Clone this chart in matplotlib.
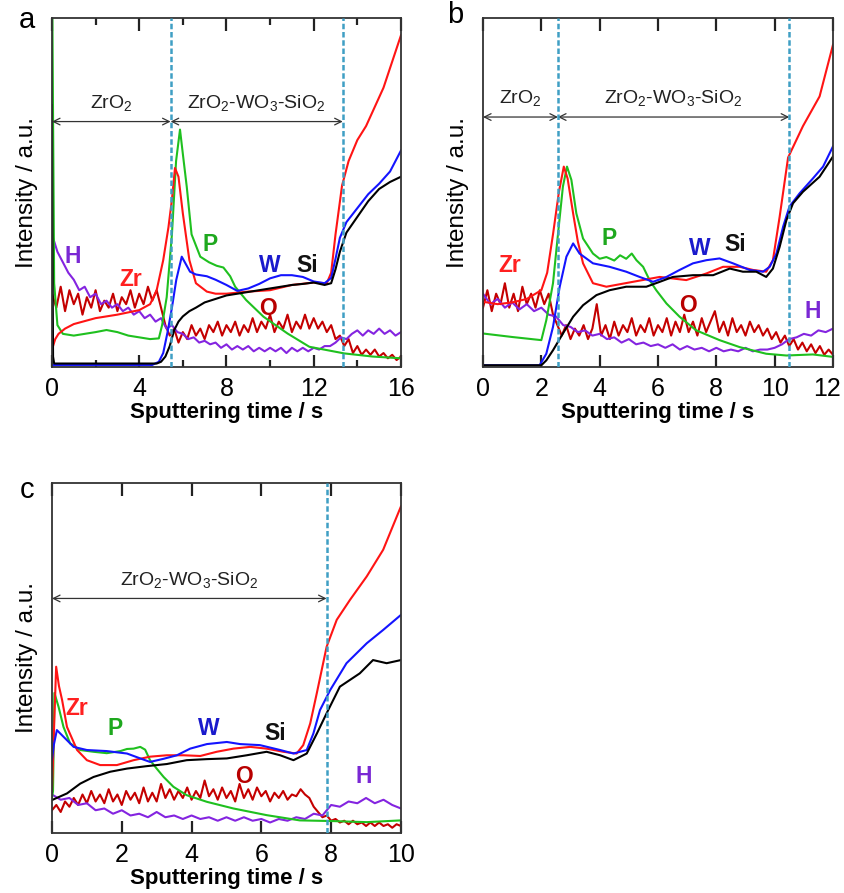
import numpy as np
import matplotlib
matplotlib.use('Agg')
import matplotlib.pyplot as plt
from matplotlib.ticker import MultipleLocator, FuncFormatter

plt.rcParams['font.family'] = ['Liberation Sans', 'DejaVu Sans']
plt.rcParams['mathtext.fontset'] = 'custom'
plt.rcParams['mathtext.rm'] = 'Liberation Sans'

# ---------------- panel a (0-16 s) ----------------
zr_a_t = [0, 0.15, 0.3, 0.6, 1, 2, 3, 4, 4.5, 4.8, 5.1, 5.34, 5.5, 5.64, 5.8, 6.0, 6.3, 6.6, 7.1, 7.5, 8, 9, 10, 11, 12, 12.6, 12.8, 13.0, 13.3, 13.6, 14.0, 14.4, 15.2, 16]
zr_a = [5, 8, 9.5, 11, 12.3, 14, 15, 16.3, 18, 22, 30.6, 40, 48, 57, 54.5, 44, 30.6, 24, 21.6, 21, 21, 21.6, 22, 23.5, 24.2, 24, 27, 38, 52, 59, 65, 69, 80, 95]
p_a_t = [0, 0.02, 0.1, 0.25, 0.5, 1, 1.5, 2, 2.5, 3, 3.5, 4, 4.5, 4.9, 5.05, 5.26, 5.5, 5.69, 5.87, 6.02, 6.18, 6.4, 6.8, 7.2, 7.55, 7.86, 8.17, 8.4, 8.9, 9.7, 10.8, 11.8, 13.4, 14.7, 16]
p_a = [100, 100, 24, 12, 9.5, 9, 9.5, 10, 10.6, 10, 9, 8.5, 8, 8.2, 12, 20, 38, 59, 68, 60, 51.6, 38, 31.6, 30, 29, 28.5, 26, 23, 19.2, 14.4, 9.6, 5.8, 3.9, 3, 2.5]
w_a_t = [0, 4.6, 4.9, 5.1, 5.3, 5.5, 5.7, 5.95, 6.33, 6.6, 7.1, 7.5, 8, 8.5, 9, 9.5, 10, 10.5, 11, 11.5, 12, 12.5, 12.8, 13.0, 13.2, 13.5, 14, 14.5, 15, 15.5, 16]
w_a = [0.6, 0.6, 1.5, 4, 10, 17, 25, 31.6, 27.3, 26.5, 26, 25, 23.5, 21.8, 22.5, 23.8, 25.4, 26.3, 26.3, 25.8, 24.5, 24, 25.5, 31, 37, 41.5, 45.5, 49.5, 52.5, 56, 62]
si_a_t = [0, 0.02, 0.05, 0.1, 4.8, 5.0, 5.2, 5.4, 5.6, 5.8, 6.0, 6.3, 6.6, 7, 7.5, 8, 8.5, 9, 9.5, 10, 10.5, 11, 11.5, 12, 12.5, 12.8, 13.0, 13.2, 13.5, 14, 14.5, 15, 15.5, 16]
si_a = [75, 40, 3, 1, 1, 1.5, 3, 6, 10.5, 13, 14.5, 16, 17, 18.5, 19.5, 20.5, 21, 21.5, 22, 22.5, 23, 23.5, 23.8, 24.2, 23.5, 24, 28, 33, 38.5, 43, 47.5, 51, 53, 54.5]
o_a = [21, 17, 23, 16, 22, 18, 21, 15, 20, 17, 22, 16, 19, 17, 21, 16, 20, 18, 22, 17,
       21, 18, 23, 19, 22, 17, 12, 9, 11, 7, 10, 8, 12, 9, 11, 8, 12, 10, 13, 9,
       12, 10, 13, 9, 12, 10, 14, 10, 13, 11, 15, 10, 13, 11, 15, 10, 13, 11, 15, 11,
       14, 11, 13, 10, 12, 8, 9, 6, 8, 4, 6, 3.5, 5, 3.5, 5, 3, 4, 2.5, 3.5, 2, 3]
h_a = [38, 33, 30, 27, 25, 22, 23, 20, 21, 18, 19, 17, 18, 16, 17, 15, 16, 14, 15, 13,
       14, 11, 12, 10, 9.5, 8, 8.5, 7, 7.5, 6.5, 7, 5.5, 6.5, 5, 6, 5, 6, 4.5, 5.5, 4.5,
       5.5, 4.5, 5.5, 4, 5.5, 4.5, 5.5, 4.5, 5.5, 5, 6, 6, 7, 8.5, 8, 9.5, 10.5, 9, 10.5, 9.5,
       11, 9.5, 10.5, 9, 10]

# ---------------- panel b (0-12 s) ----------------
zr_b_t = [0, 0.5, 1, 1.5, 2.0, 2.2, 2.4, 2.6, 2.77, 2.9, 3.09, 3.25, 3.43, 3.77, 4.23, 5.14, 6.06, 6.97, 7.66, 8.23, 8.8, 9.26, 9.71, 9.94, 10.17, 10.46, 10.97, 11.54, 12]
zr_b = [18.7, 18, 18.5, 19.5, 22, 27, 38, 50, 57.4, 54, 44, 36, 29.7, 24, 23, 24.4, 25.8, 24.9, 26.8, 28.7, 28.7, 27.8, 27.3, 30.6, 43, 60, 69, 77.5, 92.3]
p_b_t = [0, 1, 2, 2.17, 2.4, 2.57, 2.74, 2.88, 3.03, 3.2, 3.43, 3.77, 4.0, 4.23, 4.5, 4.7, 4.91, 5.1, 5.26, 5.49, 5.71, 5.94, 6.29, 6.74, 7.31, 8.11, 8.8, 9.71, 10.4, 11.31, 12]
p_b = [9.6, 8.6, 7.7, 13.4, 24, 38, 51.7, 57.4, 53.6, 44, 36.8, 32.5, 31, 31.5, 30.5, 32, 31, 32.5, 30.6, 28.7, 24.9, 22, 18.2, 14.4, 10.5, 7.7, 5.7, 3.8, 3.3, 3.6, 2.9]
w_b_t = [0, 1.94, 2.17, 2.4, 2.63, 2.86, 3.09, 3.31, 3.77, 4.34, 4.91, 5.37, 5.83, 6.29, 6.74, 7.2, 7.66, 8.11, 8.57, 9.14, 9.6, 9.83, 10.06, 10.29, 10.51, 10.86, 11.31, 11.66, 12]
w_b = [0.5, 0.5, 3.8, 11.5, 23, 31.6, 35.4, 32.5, 29.7, 28.7, 27.3, 25.8, 24.4, 25.8, 27.8, 29.7, 30.6, 31.1, 29.7, 27.8, 27.3, 28.7, 32.5, 40.2, 46, 49.8, 54, 57.4, 63.2]
si_b_t = [0, 2.0, 2.17, 2.4, 2.74, 3.09, 3.43, 3.89, 4.34, 4.91, 5.6, 6.06, 6.51, 7.2, 7.89, 8.46, 8.91, 9.37, 9.71, 9.94, 10.17, 10.4, 10.63, 10.97, 11.54, 12]
si_b = [0.5, 0.5, 1.9, 4.8, 9.6, 14.4, 17.7, 20.6, 22, 23, 23, 24.4, 25.8, 26.3, 26.3, 28.2, 27.3, 27.3, 25.8, 28.2, 34.4, 42, 46.9, 50.2, 54.5, 60.3]
o_b = [17, 22, 16, 21, 18, 24, 17, 21, 16, 23, 18, 21, 17, 22, 18, 21, 15, 12, 9, 12,
       8, 11, 9, 12, 8, 11, 18, 9, 12, 8, 13, 9, 12, 10, 14, 9, 12, 10, 14, 9,
       12, 10, 14, 9, 13, 10, 15, 10, 13, 9, 14, 10, 13, 16, 10, 13, 9, 14, 10, 12,
       9, 13, 10, 12, 9, 11, 8, 10, 7, 9, 6, 8, 5, 7, 4.5, 6.5, 4, 6, 3.5, 5, 3.5]
h_b = [21, 18, 19.5, 17, 18.5, 16.5, 18, 16, 17, 15, 14.5, 12, 11.5, 10, 10.5, 9, 9.5, 8, 8.5, 7,
       8, 6.5, 7, 6, 6.5, 5.5, 6.5, 5, 6, 5, 5.5, 4.5, 5.5, 4.5, 5, 4.5, 5.5, 4.5, 5, 5,
       5.5, 6.5, 8, 8.5, 9.5, 9, 10.5, 10, 11]

# ---------------- panel c (0-10 s) ----------------
zr_c_t = [0, 0.06, 0.12, 0.2, 0.29, 0.43, 0.72, 1.0, 1.38, 1.86, 2.34, 2.81, 3.29, 3.77, 4.25, 4.72, 5.2, 5.68, 6.15, 6.63, 7.01, 7.2, 7.4, 7.59, 7.87, 8.16, 8.54, 9.02, 9.49, 10]
zr_c = [12, 30, 47.5, 42, 38, 30.3, 23.7, 20.8, 19.4, 19.4, 20.8, 21.8, 22.2, 22.2, 22, 23.2, 24.1, 24.6, 24.1, 23.2, 22.7, 25.1, 31.3, 40, 53.2, 60.9, 66.6, 73.3, 80.9, 93.3]
p_c_t = [0, 0.03, 0.07, 0.19, 0.33, 0.52, 0.81, 1.19, 1.57, 1.96, 2.15, 2.34, 2.53, 2.67, 2.81, 3.0, 3.2, 3.48, 3.86, 4.44, 5.2, 6.15, 7.1, 8.06, 9.02, 10]
p_c = [10, 12, 40, 36, 30.3, 25.6, 23.7, 23.2, 22.8, 23.4, 24, 24.1, 24.6, 23.8, 20.8, 18.4, 16, 13.2, 10.8, 8.9, 7, 5.1, 3.6, 3.4, 3.1, 3.6]
w_c_t = [0, 0.05, 0.14, 0.33, 0.62, 1.0, 1.57, 2.15, 2.53, 2.81, 3.2, 3.58, 3.96, 4.44, 5.01, 5.39, 5.96, 6.54, 6.92, 7.3, 7.49, 7.68, 7.97, 8.44, 9.02, 9.49, 10]
w_c = [20.8, 25, 29.4, 27.5, 24.6, 23.7, 23.4, 22.7, 21.3, 20.3, 21.2, 22.2, 24.1, 25.4, 26, 25.4, 25.1, 23.7, 22.7, 23.7, 28.4, 35.1, 40.8, 48.5, 54.2, 58, 62.3]
si_c_t = [0, 0.43, 0.81, 1.19, 1.67, 2.15, 2.72, 3.29, 3.86, 4.44, 5.01, 5.58, 6.15, 6.54, 6.92, 7.3, 7.59, 7.87, 8.25, 8.82, 9.2, 9.59, 10]
si_c = [9.4, 11.3, 14.1, 16, 17.5, 18.4, 19.1, 19.7, 20.8, 21.1, 21.3, 22.2, 23.2, 22.2, 20.8, 22.7, 28.4, 34.2, 41.8, 45.6, 49.4, 48.5, 49.4]
o_c = [6.5, 8, 6, 9, 7.5, 10, 8, 11, 8.5, 12, 9, 11, 8.5, 12.5, 9, 11, 8, 12, 9.5, 11.5,
       8.5, 13, 9, 11.5, 9, 14, 10, 12.5, 9.5, 12, 10, 13, 9.5, 12, 10, 15, 10.5, 12.5, 9.5, 13,
       10, 12, 9, 14, 10, 12.5, 9.5, 13, 10.5, 12, 9, 11.5, 10, 12, 9.5, 11, 10.5, 12.5, 11, 10,
       7.5, 6, 4.5, 5, 3.5, 4, 3, 3.5, 2.5, 3.5, 2.5, 3, 2, 3, 2, 3, 2, 2.5, 1.5, 2.5, 2]
h_c = [11, 9.5, 10, 8, 8.5, 6.5, 7, 5.5, 6.5, 5, 5.5, 4.5, 6, 4.5, 5, 4, 5, 4, 4.5, 3.5,
       4.5, 3.5, 4.5, 3.5, 4, 3, 4, 3.5, 4.5, 4, 5.5, 5, 8, 7.5, 9, 8.5, 10, 8.5, 9.5, 8, 7]

COLORS = {'Zr': '#ff1414', 'P': '#1fc01f', 'W': '#1414ff', 'Si': '#000000',
          'O': '#c40000', 'H': '#8424e0'}
LABEL_COLORS = {'Zr': '#ff2020', 'P': '#1ea81e', 'W': '#1a1acc', 'Si': '#111111',
                'O': '#b80000', 'H': '#7a28d4'}
DASH_COLOR = '#3f9fc4'
TICK_SIZE = 18
TICK_PAD = 7


def noisy(vals, xmax):
    return np.linspace(0, xmax, len(vals)), vals


def draw_panel(ax, curves, xmax, major, minor, bounds, arrow_y, layers, labels):
    for name, (t, v) in curves:
        ax.plot(t, v, color=COLORS[name], lw=1.5)
    ax.set_xlim(0, xmax)
    ax.set_ylim(0, 100)
    ax.xaxis.set_major_locator(MultipleLocator(major))
    if minor:
        ax.xaxis.set_minor_locator(MultipleLocator(minor))
    ax.set_yticks([])
    ax.tick_params(axis='x', which='both', direction='in', top=True,
                   labelsize=TICK_SIZE, pad=TICK_PAD, width=1.6, color='#222222')
    ax.tick_params(axis='x', which='major', length=9)
    ax.tick_params(axis='x', which='minor', length=5)
    for s in ax.spines.values():
        s.set_linewidth(1.3)
        s.set_color('#333333')

    # layer boundaries
    for b in bounds:
        ax.axvline(b, color=DASH_COLOR, lw=1.8, ls=(0, (2.2, 1.1)), zorder=5)

    # layer arrows + names
    edges = [0] + list(bounds)
    for (x0, x1), txt in zip(zip(edges[:-1], edges[1:]), layers):
        ax.annotate('', xy=(x1, arrow_y), xytext=(x0, arrow_y),
                    arrowprops=dict(arrowstyle='<->', lw=0.9, color='#333333',
                                    shrinkA=0, shrinkB=0, mutation_scale=12))
        ax.text((x0 + x1) / 2, arrow_y + 2.2, txt, ha='center', va='bottom',
                fontsize=14, color='#222222')

    for name, x, y in labels:
        ax.text(x, y, name, color=LABEL_COLORS[name], fontsize=16.5,
                fontweight='bold', ha='center', va='center')

    ax.set_xlabel('Sputtering time / s', fontsize=16, fontweight='bold', labelpad=1)
    ax.set_ylabel('Intensity / a.u.', fontsize=17.5, labelpad=10)


def main():
    fig = plt.figure(figsize=(8.45, 8.93), dpi=100)
    ax_a = fig.add_axes([0.0615, 0.589, 0.413, 0.391])
    ax_b = fig.add_axes([0.5716, 0.589, 0.4142, 0.391])
    ax_c = fig.add_axes([0.0615, 0.0672, 0.413, 0.392])

    zr_o2 = 'ZrO$_2$'
    mix = 'ZrO$_2$-WO$_3$-SiO$_2$'

    curves_a = [('O', noisy(o_a, 16)), ('H', noisy(h_a, 16)), ('P', (p_a_t, p_a)),
                ('Zr', (zr_a_t, zr_a)), ('W', (w_a_t, w_a)), ('Si', (si_a_t, si_a))]
    labels_a = [('H', 0.95, 31.6), ('Zr', 3.6, 25), ('P', 7.25, 35), ('W', 10, 29),
                ('Si', 11.7, 29), ('O', 9.9, 16.8)]
    draw_panel(ax_a, curves_a, 16, 4, 2, [5.44, 13.33], 70.3, [zr_o2, mix], labels_a)

    curves_b = [('O', noisy(o_b, 12)), ('H', noisy(h_b, 12)), ('P', (p_b_t, p_b)),
                ('Zr', (zr_b_t, zr_b)), ('W', (w_b_t, w_b)), ('Si', (si_b_t, si_b))]
    labels_b = [('Zr', 0.9, 29.2), ('P', 4.34, 36.8), ('W', 7.43, 34), ('Si', 8.63, 35),
                ('O', 7.03, 17.7), ('H', 11.3, 15.8)]
    draw_panel(ax_b, curves_b, 12, 2, None, [2.57, 10.5], 71.6, [zr_o2, mix], labels_b)

    # last tick label of panel b sits on the figure edge: draw it a bit to the left
    ax_b.xaxis.set_major_formatter(FuncFormatter(lambda v, p: '' if v >= 12 else f'{v:g}'))
    ax_b.annotate('12', xy=(12, 0), xycoords=('data', 'axes fraction'),
                  xytext=(-4, -TICK_PAD), textcoords='offset points',
                  ha='center', va='top', fontsize=TICK_SIZE)

    curves_c = [('O', noisy(o_c, 10)), ('H', noisy(h_c, 10)), ('P', (p_c_t, p_c)),
                ('Zr', (zr_c_t, zr_c)), ('W', (w_c_t, w_c)), ('Si', (si_c_t, si_c))]
    labels_c = [('Zr', 0.72, 35.6), ('P', 1.81, 29.9), ('W', 4.49, 29.9), ('Si', 6.39, 28.4),
                ('O', 5.49, 16), ('H', 8.92, 16)]
    draw_panel(ax_c, curves_c, 10, 2, None, [7.87], 67, [mix], labels_c)

    # panel letters
    fig.text(27 / 845, 1 - 20 / 893, 'a', fontsize=21, ha='center', va='center')
    fig.text(455 / 845, 1 - 15 / 893, 'b', fontsize=21, ha='center', va='center')
    fig.text(27 / 845, 1 - 490 / 893, 'c', fontsize=21, ha='center', va='center')

    fig.savefig('out.png', dpi=100)


main()
